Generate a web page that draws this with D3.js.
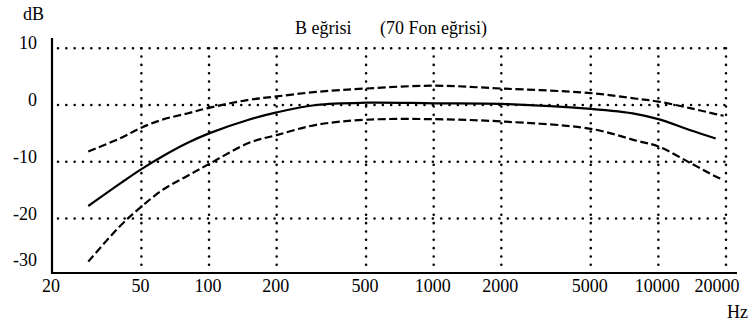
<!DOCTYPE html>
<html>
<head>
<meta charset="utf-8">
<script src="https://cdn.jsdelivr.net/npm/d3@7"></script>
<style>
  body { margin: 0; background: #fff; }
  svg { display: block; }
  text { font-family: "Liberation Serif", "Times New Roman", serif; fill: #000; }
</style>
</head>
<body>
<svg id="chart" width="749" height="324"></svg>
<script>
// frequencies (Hz) where the curves were read
const freqs = [29, 40, 50, 63, 80, 100, 150, 200, 300, 500, 1000, 2000, 5000, 8000, 10000, 14000, 18000, 19500];
// B weighting curve and its tolerance limits (dB)
const bCurve = [-17.8, -13.9, -11.3, -8.9, -6.7, -5.0, -2.6, -1.3, 0.0, 0.4, 0.3, 0.2, -0.7, -1.6, -2.5, -4.5, -5.9, null];
const upperLimit = [-8.2, -5.9, -4.0, -2.5, -1.5, -0.5, 0.9, 1.5, 2.3, 2.9, 3.4, 2.9, 2.1, 1.1, 0.6, -0.6, -1.6, -1.9];
const lowerLimit = [-27.6, -21.4, -17.9, -14.8, -12.5, -10.4, -6.7, -5.3, -3.5, -2.6, -2.5, -2.9, -4.2, -6.3, -7.3, -10.3, -12.6, -13.2];

const xTicks = [20, 50, 100, 200, 500, 1000, 2000, 5000, 10000, 20000];
const yTicks = [10, 0, -10, -20, -30];
const yGrid = [10, 0, -10, -20];

const svg = d3.select('#chart');

let x = d3.scaleLog().domain([20, 20000]).range([52, 726]);
let y = d3.scaleLinear().domain([-29.6, 11.8]).range([273, 38]);

const axisY = y(-29.6);

// dotted grid
let grid = svg.append('g')
    .attr('stroke', '#000')
    .attr('stroke-width', 2.6)
    .attr('stroke-linecap', 'round')
    .attr('stroke-dasharray', '0 8.33');

grid.selectAll('line.h')
    .data(yGrid)
    .enter().append('line')
    .attr('class', 'h')
    .attr('x1', x(20) + 6)
    .attr('x2', x(20000))
    .attr('y1', d => y(d))
    .attr('y2', d => y(d));

grid.selectAll('line.v')
    .data(xTicks.slice(1))
    .enter().append('line')
    .attr('class', 'v')
    .attr('x1', d => x(d))
    .attr('x2', d => x(d))
    .attr('y1', y(10))
    .attr('y2', axisY - 2);

// axis lines
svg.append('line')
    .attr('x1', x(20)).attr('x2', x(20))
    .attr('y1', y(11.8)).attr('y2', axisY)
    .attr('stroke', '#000').attr('stroke-width', 2.2);
svg.append('line')
    .attr('x1', x(20) - 1).attr('x2', x(20000) + 11)
    .attr('y1', axisY).attr('y2', axisY)
    .attr('stroke', '#000').attr('stroke-width', 2.2);

// tick labels
svg.selectAll('text.xt')
    .data(xTicks)
    .enter().append('text')
    .attr('class', 'xt')
    .attr('x', d => x(d) - (d === 20000 ? 9 : 1))
    .attr('y', 292)
    .attr('text-anchor', 'middle')
    .attr('font-size', 18)
    .text(d => d);

svg.selectAll('text.yt')
    .data(yTicks)
    .enter().append('text')
    .attr('class', 'yt')
    .attr('x', 37)
    .attr('y', d => Math.min(y(d) + 1, axisY - 7))
    .attr('text-anchor', 'end')
    .attr('font-size', 18)
    .text(d => d);

svg.append('text').attr('x', 23).attr('y', 20).attr('font-size', 18).text('dB');
svg.append('text').attr('x', 727).attr('y', 318).attr('font-size', 18).text('Hz');

svg.append('text').attr('x', 295).attr('y', 34).attr('font-size', 18).text('B eğrisi');
svg.append('text').attr('x', 380).attr('y', 34).attr('font-size', 18).text('(70 Fon eğrisi)');

// curves
let line = d3.line()
    .defined(d => d[1] != null)
    .x(d => x(d[0]))
    .y(d => y(d[1]))
    .curve(d3.curveCatmullRom.alpha(0.5));

let series = [
    { values: upperLimit, dash: '8 3.5' },
    { values: bCurve, dash: null },
    { values: lowerLimit, dash: '8 3.5' }
];

svg.selectAll('path.curve')
    .data(series)
    .enter().append('path')
    .attr('class', 'curve')
    .attr('fill', 'none')
    .attr('stroke', '#000')
    .attr('stroke-width', 2.2)
    .attr('stroke-dasharray', d => d.dash)
    .attr('d', d => line(freqs.map((f, i) => [f, d.values[i]])));
</script>
</body>
</html>
